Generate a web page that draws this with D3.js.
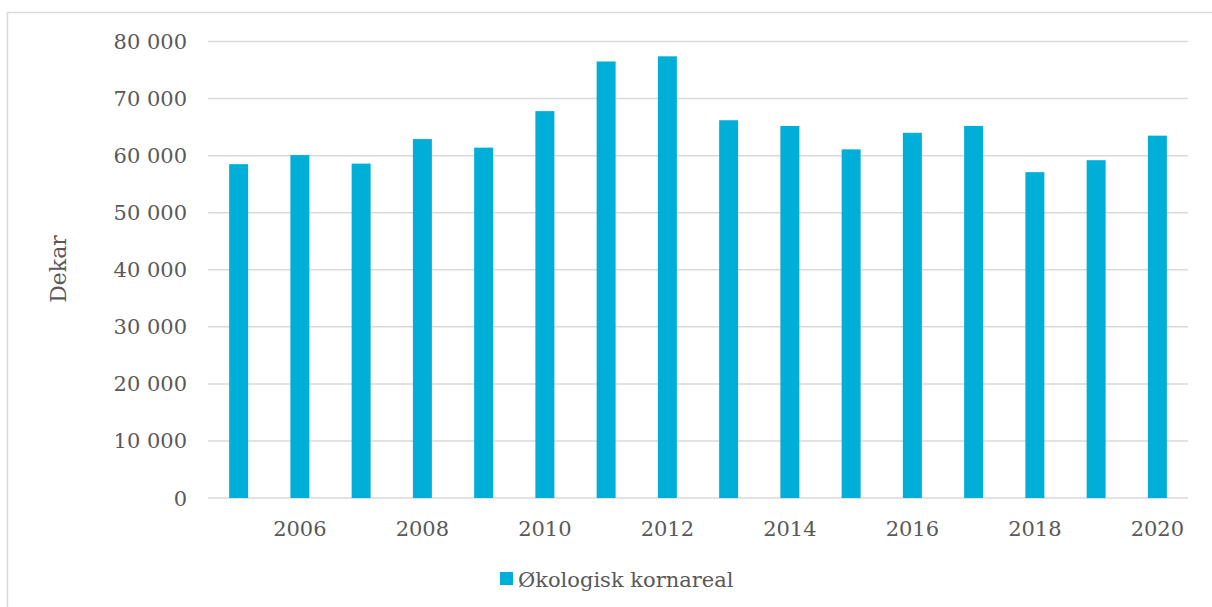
<!DOCTYPE html>
<html>
<head>
<meta charset="utf-8">
<script src="https://cdn.jsdelivr.net/npm/d3@7"></script>
<style>
  body { margin: 0; background: #fff; }
  text { font-family: "DejaVu Serif", serif; fill: #595959; }
</style>
</head>
<body>
<div id="chart"></div>
<script>
const years = [2005, 2006, 2007, 2008, 2009, 2010, 2011, 2012, 2013, 2014, 2015, 2016, 2017, 2018, 2019, 2020];
const areal = [58500, 60100, 58600, 62900, 61400, 67800, 76500, 77400, 66200, 65200, 61100, 64000, 65200, 57100, 59200, 63500];
const yTicks = [0, 10000, 20000, 30000, 40000, 50000, 60000, 70000, 80000];
const xLabelYears = [2006, 2008, 2010, 2012, 2014, 2016, 2018, 2020];
const seriesName = 'Økologisk kornareal';

const width = 1212, height = 607;
const margin = { top: 41.5, right: 24, bottom: 109, left: 208 };
const innerW = width - margin.left - margin.right;
const innerH = height - margin.top - margin.bottom;

const svg = d3.select('#chart')
  .append('svg')
  .attr('width', width)
  .attr('height', height);

// outer frame (right and bottom edges sit outside the picture)
svg.append('rect')
  .attr('x', 7.5).attr('y', 12.5)
  .attr('width', 1300).attr('height', 700)
  .attr('fill', 'none')
  .attr('stroke', '#d9d9d9')
  .attr('stroke-width', 1.5);

const g = svg.append('g')
  .attr('transform', `translate(${margin.left},${margin.top})`);

const x = d3.scaleBand()
  .domain(years)
  .range([0, innerW])
  .paddingInner(0.69)
  .paddingOuter(0.345);

const y = d3.scaleLinear()
  .domain([0, 80000])
  .range([innerH, 0]);

// gridlines
g.append('g')
  .selectAll('line')
  .data(yTicks)
  .join('line')
  .attr('x1', 0)
  .attr('x2', innerW)
  .attr('y1', d => y(d))
  .attr('y2', d => y(d))
  .attr('stroke', '#d9d9d9')
  .attr('stroke-width', 1.5);

// y axis labels
const fmt = d => d3.format(',')(d).replace(/,/g, ' ');
g.append('g')
  .selectAll('text')
  .data(yTicks)
  .join('text')
  .attr('x', -21)
  .attr('y', d => y(d))
  .attr('dy', '0.36em')
  .attr('text-anchor', 'end')
  .style('font-size', '21px')
  .text(fmt);

// bars
g.append('g')
  .selectAll('rect')
  .data(years)
  .join('rect')
  .attr('x', d => x(d))
  .attr('width', x.bandwidth())
  .attr('y', (d, i) => y(areal[i]))
  .attr('height', (d, i) => innerH - y(areal[i]))
  .attr('fill', '#00afd7');

// x axis labels (every second year)
g.append('g')
  .selectAll('text')
  .data(xLabelYears)
  .join('text')
  .attr('x', d => x(d) + x.bandwidth() / 2)
  .attr('y', innerH + 38)
  .attr('text-anchor', 'middle')
  .style('font-size', '21px')
  .text(d => d);

// y axis title
svg.append('text')
  .attr('transform', `translate(66,269) rotate(-90)`)
  .attr('text-anchor', 'middle')
  .style('font-size', '22px')
  .text('Dekar');

// legend
const legend = svg.append('g')
  .attr('transform', 'translate(500,572)');

legend.append('rect')
  .attr('width', 13)
  .attr('height', 13)
  .attr('fill', '#00afd7');

legend.append('text')
  .attr('x', 18)
  .attr('y', 7)
  .attr('dy', '0.36em')
  .style('font-size', '21px')
  .text(seriesName);
</script>
</body>
</html>
